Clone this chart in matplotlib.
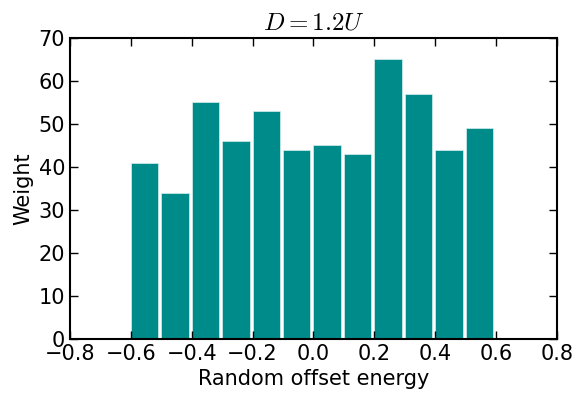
import numpy as np
import matplotlib
matplotlib.use('Agg')
import matplotlib.pyplot as plt

# Bordas esquerdas dos bins e pesos
bordas = [-0.6, -0.5, -0.4, -0.3, -0.2, -0.1, 0.0, 0.1, 0.2, 0.3, 0.4, 0.5]
pesos = [41, 34, 55, 46, 53, 44, 45, 43, 65, 57, 44, 49]

plt.rcParams['mathtext.fontset'] = 'cm'

fig = plt.figure(figsize=(5.77, 3.93), dpi=100)
ax = fig.add_axes([0.1213, 0.1374, 0.844, 0.766])
ax.bar(bordas, pesos, width=0.09, align='edge',
       color='#008b8b', edgecolor='#d8eeee', linewidth=0.5)

ax.set_xlim(-0.8, 0.8)
ax.set_ylim(0, 70)
ax.set_xticks(np.arange(-0.8, 0.81, 0.2))
ax.set_xticklabels(['\u22120.8', '\u22120.6', '\u22120.4', '\u22120.2', '0.0',
                    '0.2', '0.4', '0.6', '0.8'])
ax.set_yticks(range(0, 71, 10))
ax.tick_params(direction='in', top=True, right=True, labelsize=15, length=6, width=1)
for s in ax.spines.values():
    s.set_linewidth(1.5)

ax.set_xlabel('Random offset energy', fontsize=15)
ax.set_ylabel('Weight', fontsize=15)
ax.set_title(r'$D = 1.2U$', fontsize=18)

fig.savefig('out.png', dpi=100)
